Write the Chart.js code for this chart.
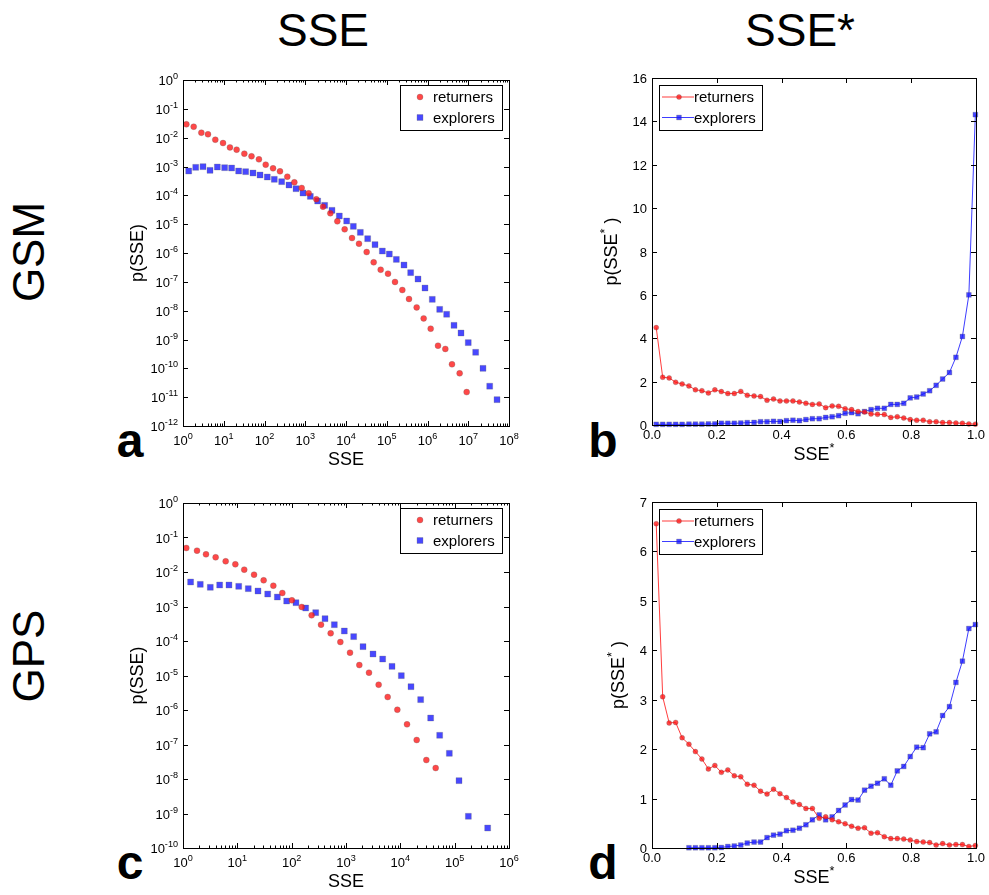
<!DOCTYPE html>
<html>
<head>
<meta charset="utf-8">
<script src="https://cdn.jsdelivr.net/npm/chart.js@4.4.0/dist/chart.umd.min.js"></script>
<style>
  body { margin: 0; background: #fff; width: 989px; height: 895px; position: relative; overflow: hidden;
         font-family: "Liberation Sans", Arial, sans-serif; }
  canvas { position: absolute; }
  .lbl { position: absolute; color: #000; white-space: nowrap; line-height: 1; transform: translate(-50%, -50%); }
  .head { font-size: 46px; }
  .row { font-size: 44px; transform: translate(-50%, -50%) rotate(-90deg); }
  .letter { font-size: 48px; font-weight: bold; }
</style>
</head>
<body>
<div class="lbl head" style="left:323px; top:30px;">SSE</div>
<div class="lbl head" style="left:800px; top:30px;">SSE*</div>
<div class="lbl row" style="left:29px; top:252px;">GSM</div>
<div class="lbl row" style="left:29px; top:656px;">GPS</div>
<div class="lbl letter" style="left:130px; top:441px;">a</div>
<div class="lbl letter" style="left:603px; top:441px;">b</div>
<div class="lbl letter" style="left:130px; top:863px;">c</div>
<div class="lbl letter" style="left:603px; top:863px;">d</div>

<canvas id="chartA" width="430" height="420" style="left:100px; top:60px;"></canvas>
<canvas id="chartB" width="419" height="420" style="left:570px; top:60px;"></canvas>
<canvas id="chartC" width="430" height="412" style="left:100px; top:483px;"></canvas>
<canvas id="chartD" width="419" height="412" style="left:570px; top:483px;"></canvas>

<script>
// ---- data ----

// GSM, p(SSE) (panel a)
const gsmRetX = [1.21, 1.83, 2.82, 4.1, 6.2, 9.6, 14.2, 20.7, 32, 48, 73, 107, 162, 240, 363, 540, 817, 1213,
  1871, 2727, 4130, 6124, 9270, 14030, 20840, 32130, 47750, 70960, 107400, 159400, 241200, 351700, 542000,
  805000, 1.197e6, 1.81e6, 2.74e6, 3.99e6, 6.15e6, 9.14e6];
const gsmRetY = [0.029, 0.024, 0.0149, 0.0131, 0.0085, 0.0065, 0.0046, 0.00384, 0.00279, 0.00225, 0.00177,
  0.00116, 8.63e-4, 6.79e-4, 4.44e-4, 2.82e-4, 1.80e-4, 1.17e-4, 7.26e-5, 4.05e-5, 2.38e-5, 1.25e-5, 6.6e-6,
  3.3e-6, 2.1e-6, 1.08e-6, 4.75e-7, 2.64e-7, 1.92e-7, 9.9e-8, 5.2e-8, 2.54e-8, 1.3e-8, 5.4e-9, 2.38e-9,
  6.1e-10, 4.7e-10, 1.38e-10, 6.7e-11, 1.5e-11];
const gsmExpX = [1.38, 2.05, 3.1, 4.6, 6.96, 10.5, 15.6, 23.2, 34.5, 52.2, 77.6, 117, 174, 264, 399, 593, 881,
  1333, 2017, 2995, 4532, 6857, 10380, 15140, 22490, 34030, 51500, 77920, 115700, 171900, 265000, 386000,
  585000, 868000, 1.31e6, 1.99e6, 2.95e6, 4.47e6, 6.64e6, 1.0e7, 1.52e7, 2.3e7, 3.36e7, 5.08e7];
const gsmExpY = [6.98e-4, 9.35e-4, 9.87e-4, 7.36e-4, 9.6e-4, 9.1e-4, 8.87e-4, 6.98e-4, 6.62e-4, 5.95e-4,
  5.07e-4, 4.32e-4, 3.59e-4, 2.98e-4, 2.28e-4, 1.70e-4, 1.20e-4, 9.2e-5, 6.35e-5, 4.5e-5, 3.02e-5, 1.92e-5,
  1.29e-5, 8.4e-6, 5.2e-6, 3.14e-6, 1.95e-6, 1.17e-6, 9.2e-7, 6.0e-7, 3.83e-7, 2.08e-7, 1.25e-7, 6.1e-8,
  2.47e-8, 1.11e-8, 7.5e-9, 3.1e-9, 1.68e-9, 7.8e-10, 3.6e-10, 1.0e-10, 2.4e-11, 8.2e-12];

// GPS, p(SSE) (panel c)
const gpsRetX = [1.15, 1.81, 2.65, 3.99, 6.1, 9.19, 13.4, 20.3, 30.5, 46, 67.3, 101, 153, 233, 347, 522, 787,
  1185, 1760, 2650, 3990, 5850, 8810, 13270, 20000, 30100, 44700];
const gpsRetY = [0.0496, 0.0415, 0.0325, 0.0266, 0.0204, 0.0167, 0.0117, 0.00837, 0.00573, 0.00402, 0.00246,
  0.00151, 9.7e-4, 5.55e-4, 2.97e-4, 1.67e-4, 9.35e-5, 4.59e-5, 2.01e-5, 1.21e-5, 5.42e-6, 2.38e-6, 1.02e-6,
  3.84e-7, 1.35e-7, 3.55e-8, 2.08e-8];
const gpsExpX = [1.38, 2.08, 3.18, 4.73, 7.02, 10.6, 15.9, 24, 36.2, 54.5, 80.9, 120, 181, 277, 411, 610, 931,
  1384, 2056, 3140, 4730, 7030, 10430, 15710, 23660, 36150, 52970, 79800, 120200, 178600, 404800];
const gpsExpY = [0.00513, 0.00439, 0.0036, 0.0042, 0.0042, 0.00384, 0.00329, 0.00281, 0.0023, 0.00188, 0.00144,
  0.00129, 9.05e-4, 6.63e-4, 4.44e-4, 2.97e-4, 1.95e-4, 1.34e-4, 6.86e-5, 4.2e-5, 3.0e-5, 1.84e-5, 9.9e-6,
  4.74e-6, 2.0e-6, 5.86e-7, 1.85e-7, 5.55e-8, 8.95e-9, 8.3e-10, 3.8e-10];

// p(SSE*) bins, shared by panels b and d
const starBins = [0.013, 0.033, 0.053, 0.073, 0.093, 0.114, 0.134, 0.154, 0.174, 0.194, 0.214, 0.234, 0.254,
  0.274, 0.294, 0.315, 0.335, 0.355, 0.375, 0.395, 0.415, 0.435, 0.455, 0.475, 0.495, 0.516, 0.536, 0.556,
  0.576, 0.596, 0.616, 0.636, 0.656, 0.676, 0.696, 0.717, 0.737, 0.757, 0.777, 0.797, 0.817, 0.837, 0.857,
  0.877, 0.897, 0.918, 0.938, 0.958, 0.978, 0.998];
const gsmStarRet = [4.49, 2.2, 2.17, 1.97, 1.89, 1.8, 1.62, 1.58, 1.48, 1.62, 1.54, 1.45, 1.45, 1.55, 1.37,
  1.34, 1.31, 1.14, 1.2, 1.11, 1.11, 1.11, 1.06, 1.0, 0.95, 0.97, 0.8, 0.88, 0.86, 0.75, 0.71, 0.62, 0.6,
  0.51, 0.49, 0.48, 0.35, 0.38, 0.32, 0.25, 0.22, 0.22, 0.15, 0.15, 0.11, 0.11, 0.09, 0.08, 0.05, 0.04];
const gsmStarExp = [0.03, 0.03, 0.03, 0.03, 0.03, 0.04, 0.04, 0.04, 0.05, 0.05, 0.08, 0.08, 0.08, 0.09, 0.11,
  0.12, 0.15, 0.15, 0.17, 0.16, 0.2, 0.22, 0.2, 0.25, 0.29, 0.29, 0.35, 0.38, 0.43, 0.54, 0.57, 0.52, 0.62,
  0.71, 0.77, 0.77, 0.95, 0.95, 1.0, 1.25, 1.29, 1.43, 1.58, 1.83, 2.12, 2.42, 3.12, 4.08, 6.0, 14.31];
const gpsStarRet = [6.56, 3.06, 2.53, 2.54, 2.23, 2.10, 1.95, 1.80, 1.60, 1.67, 1.53, 1.58, 1.46, 1.44, 1.29,
  1.27, 1.15, 1.09, 1.19, 1.10, 1.02, 0.93, 0.88, 0.80, 0.80, 0.60, 0.63, 0.57, 0.53, 0.49, 0.44, 0.40, 0.41,
  0.30, 0.31, 0.23, 0.19, 0.19, 0.18, 0.16, 0.13, 0.12, 0.11, 0.06, 0.09, 0.06, 0.07, 0.07, 0.03, 0.05];
const gpsStarExp = [null, null, null, null, null, 0.005, 0.005, 0.005, 0.005, 0.005, 0.01, 0.03, 0.04, 0.06,
  0.10, 0.12, 0.12, 0.21, 0.26, 0.28, 0.35, 0.36, 0.40, 0.47, 0.57, 0.67, 0.57, 0.63, 0.76, 0.87, 0.98, 0.97,
  1.17, 1.25, 1.31, 1.40, 1.27, 1.56, 1.65, 1.85, 2.04, 2.03, 2.31, 2.35, 2.68, 2.86, 3.35, 3.78, 4.44, 4.52];

// tick labels
const aXExps = [0, 1, 2, 3, 4, 5, 6, 7, 8];
const aYExps = [-12, -11, -10, -9, -8, -7, -6, -5, -4, -3, -2, -1, 0];
const cXExps = [0, 1, 2, 3, 4, 5, 6];
const cYExps = [-10, -9, -8, -7, -6, -5, -4, -3, -2, -1, 0];
const starXTicks = [0, 0.2, 0.4, 0.6, 0.8, 1.0];
const bYTicks = [0, 2, 4, 6, 8, 10, 12, 14, 16];
const dYTicks = [0, 1, 2, 3, 4, 5, 6, 7];

const seriesNames = ['returners', 'explorers'];

const RED = 'rgba(255, 20, 20, 0.78)';
const BLUE = 'rgba(20, 20, 255, 0.78)';
const EDGE = 'rgba(90, 90, 90, 0.45)';
const FONT = '"Liberation Sans", Arial, sans-serif';

function pairs(xs, ys) {
  const out = [];
  xs.forEach((x, i) => { if (ys[i] !== null) out.push({ x: x, y: ys[i] }); });
  return out;
}

// draw a run of text pieces, some of them superscript
function richWidth(ctx, pieces, size) {
  let w = 0;
  pieces.forEach(p => {
    ctx.font = (p.sup ? size * 0.7 : size) + 'px ' + FONT;
    w += ctx.measureText(p.t).width;
  });
  return w;
}
function drawRich(ctx, pieces, size, x, y) {
  let cx = x;
  pieces.forEach(p => {
    const s = p.sup ? size * 0.7 : size;
    ctx.font = s + 'px ' + FONT;
    ctx.fillText(p.t, cx, p.sup ? y - size * 0.45 : y);
    cx += ctx.measureText(p.t).width;
  });
}

// matplotlib-like frame, inward ticks, labels and legend
function axesPlugin(cfg) {
  return {
    id: 'mplAxes',
    afterDraw(chart) {
      const ctx = chart.ctx;
      const a = chart.chartArea;
      const xs = chart.scales.x, ys = chart.scales.y;
      ctx.save();
      ctx.strokeStyle = '#000';
      ctx.fillStyle = '#000';
      ctx.lineWidth = 1;
      ctx.strokeRect(Math.round(a.left) + 0.5, Math.round(a.top) + 0.5,
        Math.round(a.right - a.left), Math.round(a.bottom - a.top));

      const tick = (x1, y1, x2, y2) => {
        ctx.beginPath(); ctx.moveTo(x1, y1); ctx.lineTo(x2, y2); ctx.stroke();
      };
      const xVals = cfg.log ? cfg.xTicks.map(e => Math.pow(10, e)) : cfg.xTicks;
      const yVals = cfg.log ? cfg.yTicks.map(e => Math.pow(10, e)) : cfg.yTicks;

      // major ticks
      xVals.forEach(v => {
        const px = Math.round(xs.getPixelForValue(v)) + 0.5;
        tick(px, a.bottom, px, a.bottom - 5);
        tick(px, a.top, px, a.top + 5);
      });
      yVals.forEach(v => {
        const py = Math.round(ys.getPixelForValue(v)) + 0.5;
        tick(a.left, py, a.left + 5, py);
        tick(a.right, py, a.right - 5, py);
      });
      // minor ticks on log x
      if (cfg.log) {
        cfg.xTicks.slice(0, -1).forEach(e => {
          for (let m = 2; m < 10; m++) {
            const px = Math.round(xs.getPixelForValue(m * Math.pow(10, e))) + 0.5;
            tick(px, a.bottom, px, a.bottom - 2.5);
            tick(px, a.top, px, a.top + 2.5);
          }
        });
      }

      // tick labels
      const ts = 13;
      ctx.textBaseline = 'alphabetic';
      ctx.textAlign = 'left';
      cfg.xTicks.forEach((t, i) => {
        const px = xs.getPixelForValue(xVals[i]);
        const pieces = cfg.log ? [{ t: '10' }, { t: String(t), sup: true }] : [{ t: t.toFixed(1) }];
        const w = richWidth(ctx, pieces, ts);
        drawRich(ctx, pieces, ts, px - w / 2, a.bottom + (cfg.log ? 19 : 14));
      });
      cfg.yTicks.forEach((t, i) => {
        const py = ys.getPixelForValue(yVals[i]);
        const pieces = cfg.log ? [{ t: '10' }, { t: String(t), sup: true }] : [{ t: String(t) }];
        const w = richWidth(ctx, pieces, ts);
        drawRich(ctx, pieces, ts, a.left - 5 - w, py + 5);
      });

      // axis titles
      const fs = 18;
      const xw = richWidth(ctx, cfg.xTitle, fs);
      drawRich(ctx, cfg.xTitle, fs, (a.left + a.right) / 2 - xw / 2, a.bottom + cfg.xTitleGap);
      ctx.save();
      ctx.translate(a.left - cfg.yTitleGap, (a.top + a.bottom) / 2);
      ctx.rotate(-Math.PI / 2);
      const yw = richWidth(ctx, cfg.yTitle, fs);
      drawRich(ctx, cfg.yTitle, fs, -yw / 2, 6);
      ctx.restore();

      // legend box
      const L = cfg.legend;
      const bx = L.right ? a.right - L.dx - L.w : a.left + L.dx;
      const by = a.top + L.dy;
      ctx.fillStyle = '#fff';
      ctx.fillRect(bx, by, L.w, L.h);
      ctx.strokeStyle = '#000';
      ctx.strokeRect(Math.round(bx) + 0.5, Math.round(by) + 0.5, L.w, L.h);
      chart.data.datasets.forEach((ds, i) => {
        const ry = by + 12 + i * 20.5;
        const mx = bx + 20;
        if (cfg.lines) {
          ctx.strokeStyle = ds.borderColor;
          tick(bx + 3, ry, bx + 35, ry);
        }
        ctx.fillStyle = ds.backgroundColor;
        ctx.strokeStyle = EDGE;
        ctx.lineWidth = 0.6;
        ctx.beginPath();
        if (ds.pointStyle === 'circle') {
          ctx.arc(mx, ry, ds.pointRadius, 0, Math.PI * 2);
        } else {
          const h = ds.pointRadius * Math.SQRT1_2;
          ctx.rect(mx - h, ry - h, 2 * h, 2 * h);
        }
        ctx.fill(); ctx.stroke();
        ctx.lineWidth = 1;
        ctx.fillStyle = '#000';
        ctx.font = '15px ' + FONT;
        ctx.fillText(ds.label, bx + (cfg.lines ? 35 : 33), ry + 5);
      });
      ctx.restore();
    }
  };
}

function logPanel(id, ret, exp, xExps, yExps, pad) {
  const cfg = {
    log: true, lines: false, xTicks: xExps, yTicks: yExps,
    xTitle: [{ t: 'SSE' }], yTitle: [{ t: 'p(SSE)' }],
    xTitleGap: 39, yTitleGap: 46,
    legend: { right: true, dx: 7, dy: 5, w: 102, h: 45 }
  };
  return new Chart(document.getElementById(id), {
    type: 'scatter',
    data: {
      datasets: [
        { label: seriesNames[0], data: ret, pointStyle: 'circle', pointRadius: 3,
          backgroundColor: RED, borderColor: EDGE, borderWidth: 0.6 },
        { label: seriesNames[1], data: exp, pointStyle: 'rect', pointRadius: 4.2,
          backgroundColor: BLUE, borderColor: EDGE, borderWidth: 0.6 }
      ]
    },
    options: {
      responsive: false, animation: false, devicePixelRatio: 1,
      layout: { padding: pad },
      plugins: { legend: { display: false }, tooltip: { enabled: false } },
      scales: {
        x: { type: 'logarithmic', display: false,
             min: Math.pow(10, xExps[0]), max: Math.pow(10, xExps[xExps.length - 1]) },
        y: { type: 'logarithmic', display: false,
             min: Math.pow(10, yExps[0]), max: Math.pow(10, yExps[yExps.length - 1]) }
      }
    },
    plugins: [axesPlugin(cfg)]
  });
}

function starPanel(id, ret, exp, yTicks, pad, yTitleGap) {
  const cfg = {
    log: false, lines: true, xTicks: starXTicks, yTicks: yTicks,
    xTitle: [{ t: 'SSE' }, { t: '*', sup: true }],
    yTitle: [{ t: 'p(SSE' }, { t: '*', sup: true }, { t: ' )' }],
    xTitleGap: 35, yTitleGap: yTitleGap,
    legend: { right: false, dx: 7, dy: 7, w: 103, h: 45 }
  };
  return new Chart(document.getElementById(id), {
    type: 'scatter',
    data: {
      datasets: [
        { label: seriesNames[0], data: pairs(starBins, ret), showLine: true, clip: false,
          borderColor: 'rgba(255, 40, 40, 0.9)', borderWidth: 1,
          pointStyle: 'circle', pointRadius: 2.5, pointBackgroundColor: RED, backgroundColor: RED,
          pointBorderColor: EDGE, pointBorderWidth: 0.6 },
        { label: seriesNames[1], data: pairs(starBins, exp), showLine: true, clip: false,
          borderColor: 'rgba(40, 40, 255, 0.9)', borderWidth: 1,
          pointStyle: 'rect', pointRadius: 3.4, pointBackgroundColor: BLUE, backgroundColor: BLUE,
          pointBorderColor: EDGE, pointBorderWidth: 0.6 }
      ]
    },
    options: {
      responsive: false, animation: false, devicePixelRatio: 1,
      layout: { padding: pad },
      plugins: { legend: { display: false }, tooltip: { enabled: false } },
      scales: {
        x: { type: 'linear', display: false, min: 0, max: 1 },
        y: { type: 'linear', display: false, min: 0, max: yTicks[yTicks.length - 1] }
      }
    },
    plugins: [axesPlugin(cfg)]
  });
}

logPanel('chartA', pairs(gsmRetX, gsmRetY), pairs(gsmExpX, gsmExpY), aXExps, aYExps,
  { left: 83, top: 20, right: 21, bottom: 54 });
starPanel('chartB', gsmStarRet, gsmStarExp, bYTicks, { left: 82, top: 18, right: 13, bottom: 55 }, 41);
logPanel('chartC', pairs(gpsRetX, gpsRetY), pairs(gpsExpX, gpsExpY), cXExps, cYExps,
  { left: 83, top: 20, right: 21, bottom: 47 });
starPanel('chartD', gpsStarRet, gpsStarExp, dYTicks, { left: 82, top: 19, right: 13, bottom: 47 }, 34);
</script>
</body>
</html>
